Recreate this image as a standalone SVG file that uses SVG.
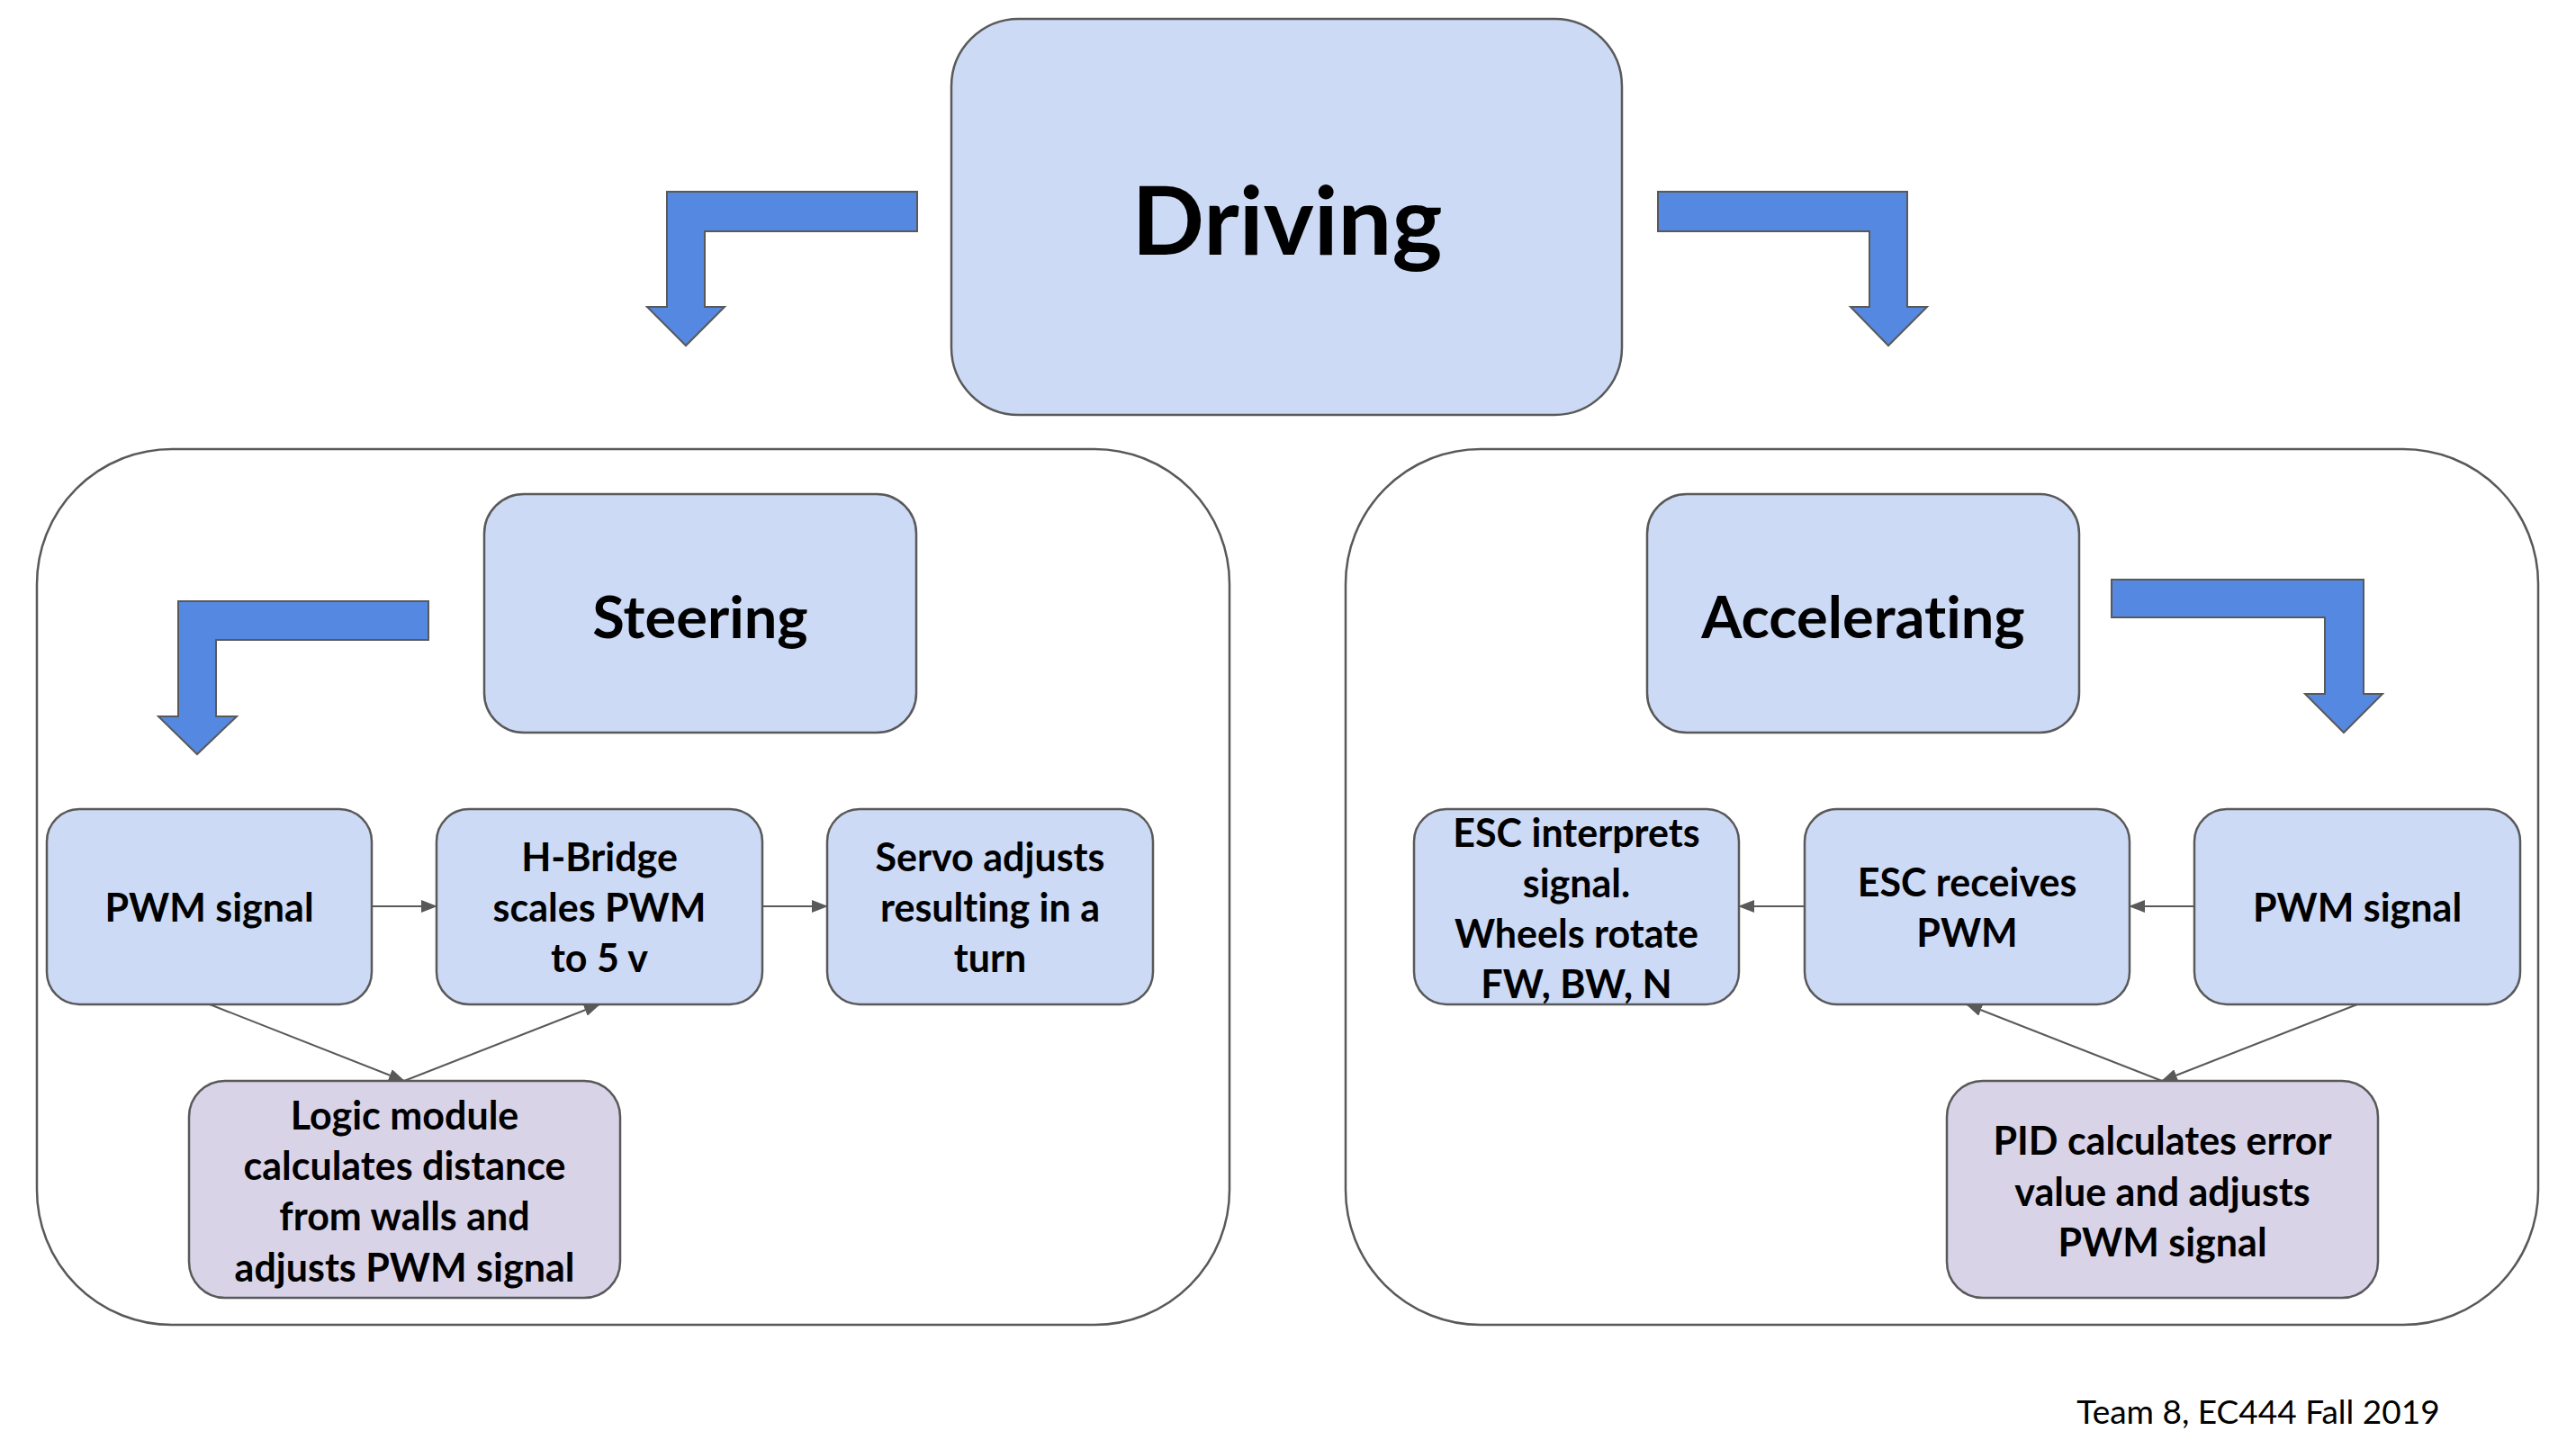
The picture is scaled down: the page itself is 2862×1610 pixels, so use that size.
<svg xmlns="http://www.w3.org/2000/svg" width="2862" height="1610" viewBox="0 0 2862 1610">
<style>
.box{fill:#ccdaf5;stroke:#595959;stroke-width:2.5}
.pbox{fill:#d9d3e8;stroke:#595959;stroke-width:2.5}
.cont{fill:#ffffff;stroke:#595959;stroke-width:2.5}
.barrow{fill:#5588e0;stroke:#595959;stroke-width:2}
.t{font-family:Lato,"Open Sans","Liberation Sans",sans-serif;font-weight:bold;fill:#000;text-anchor:middle;font-variant-ligatures:none}
.s{font-size:43px}
.conn{stroke:#595959;stroke-width:2;fill:none;marker-end:url(#ah)}
</style>
<defs>
<marker id="ah" markerUnits="userSpaceOnUse" markerWidth="18" markerHeight="14" refX="17" refY="7" orient="auto">
<path d="M0,0 L18,7 L0,14 z" fill="#595959"/>
</marker>
</defs>
<rect width="2862" height="1610" fill="#ffffff"/>

<g id="driving">
<rect class="box" x="1057" y="21" width="745" height="440" rx="75" ry="75"/>
<text class="t" x="1430" y="283" font-size="106">Driving</text>
</g>

<g id="arrow-driving-left">
<polygon class="barrow" points="1019,213 741,213 741,341 719,341 762,384 805,341 783,341 783,257 1019,257"/>
</g>
<g id="arrow-driving-right">
<polygon class="barrow" points="1842,213 2119,213 2119,341 2141,341 2098,384 2056,341 2077,341 2077,257 1842,257"/>
</g>

<g id="steering-container">
<rect class="cont" x="41" y="499" width="1325" height="973" rx="150" ry="150"/>
</g>
<g id="accelerating-container">
<rect class="cont" x="1495" y="499" width="1325" height="973" rx="150" ry="150"/>
</g>

<g id="steering">
<rect class="box" x="538" y="549" width="480" height="265" rx="44" ry="44"/>
<text class="t" x="778" y="709" font-size="65">Steering</text>
</g>
<g id="arrow-steering">
<polygon class="barrow" points="476,668 198,668 198,796 176,796 219,838 263,796 240,796 240,711 476,711"/>
</g>

<g id="accelerating">
<rect class="box" x="1830" y="549" width="480" height="265" rx="44" ry="44"/>
<text class="t" x="2070" y="709" font-size="65">Accelerating</text>
</g>
<g id="arrow-accelerating">
<polygon class="barrow" points="2346,644 2626,644 2626,771 2647,771 2604,814 2561,771 2583,771 2583,686 2346,686"/>
</g>

<g id="pwm-left">
<rect class="box" x="52" y="899" width="361" height="217" rx="36" ry="36"/>
<text class="t s" x="232.5" y="1024">PWM signal</text>
</g>
<g id="hbridge">
<rect class="box" x="485" y="899" width="362" height="217" rx="36" ry="36"/>
<text class="t s" x="666" y="968">H-Bridge</text>
<text class="t s" x="666" y="1024">scales PWM</text>
<text class="t s" x="666" y="1080">to 5 v</text>
</g>
<g id="servo">
<rect class="box" x="919" y="899" width="362" height="217" rx="36" ry="36"/>
<text class="t s" x="1100" y="968">Servo adjusts</text>
<text class="t s" x="1100" y="1024">resulting in a</text>
<text class="t s" x="1100" y="1080">turn</text>
</g>
<g id="logic">
<rect class="pbox" x="210" y="1201" width="479" height="241" rx="40" ry="40"/>
<text class="t s" x="449.5" y="1255">Logic module</text>
<text class="t s" x="449.5" y="1311">calculates distance</text>
<text class="t s" x="449.5" y="1367">from walls and</text>
<text class="t s" x="449.5" y="1424">adjusts PWM signal</text>
</g>

<g id="esc-interprets">
<rect class="box" x="1571" y="899" width="361" height="217" rx="36" ry="36"/>
<text class="t s" x="1751.5" y="941">ESC interprets</text>
<text class="t s" x="1751.5" y="997">signal.</text>
<text class="t s" x="1751.5" y="1053">Wheels rotate</text>
<text class="t s" x="1751.5" y="1109">FW, BW, N</text>
</g>
<g id="esc-receives">
<rect class="box" x="2005" y="899" width="361" height="217" rx="36" ry="36"/>
<text class="t s" x="2185.5" y="996">ESC receives</text>
<text class="t s" x="2185.5" y="1052">PWM</text>
</g>
<g id="pwm-right">
<rect class="box" x="2438" y="899" width="362" height="217" rx="36" ry="36"/>
<text class="t s" x="2619" y="1024">PWM signal</text>
</g>
<g id="pid">
<rect class="pbox" x="2163" y="1201" width="479" height="241" rx="40" ry="40"/>
<text class="t s" x="2402.5" y="1283">PID calculates error</text>
<text class="t s" x="2402.5" y="1340">value and adjusts</text>
<text class="t s" x="2402.5" y="1396">PWM signal</text>
</g>

<g id="connectors">
<line class="conn" x1="413" y1="1007" x2="485" y2="1007"/>
<line class="conn" x1="847" y1="1007" x2="919" y2="1007"/>
<line class="conn" x1="233" y1="1116" x2="449" y2="1201"/>
<line class="conn" x1="449" y1="1201" x2="666" y2="1116"/>
<line class="conn" x1="2438" y1="1007" x2="2366" y2="1007"/>
<line class="conn" x1="2005" y1="1007" x2="1932" y2="1007"/>
<line class="conn" x1="2619" y1="1116" x2="2402" y2="1201"/>
<line class="conn" x1="2402" y1="1201" x2="2185" y2="1116"/>
</g>

<g id="footer">
<text x="2509" y="1582" font-family="Lato,'Open Sans','Liberation Sans',sans-serif" font-size="37" text-anchor="middle" fill="#000">Team 8, EC444 Fall 2019</text>
</g>
</svg>
